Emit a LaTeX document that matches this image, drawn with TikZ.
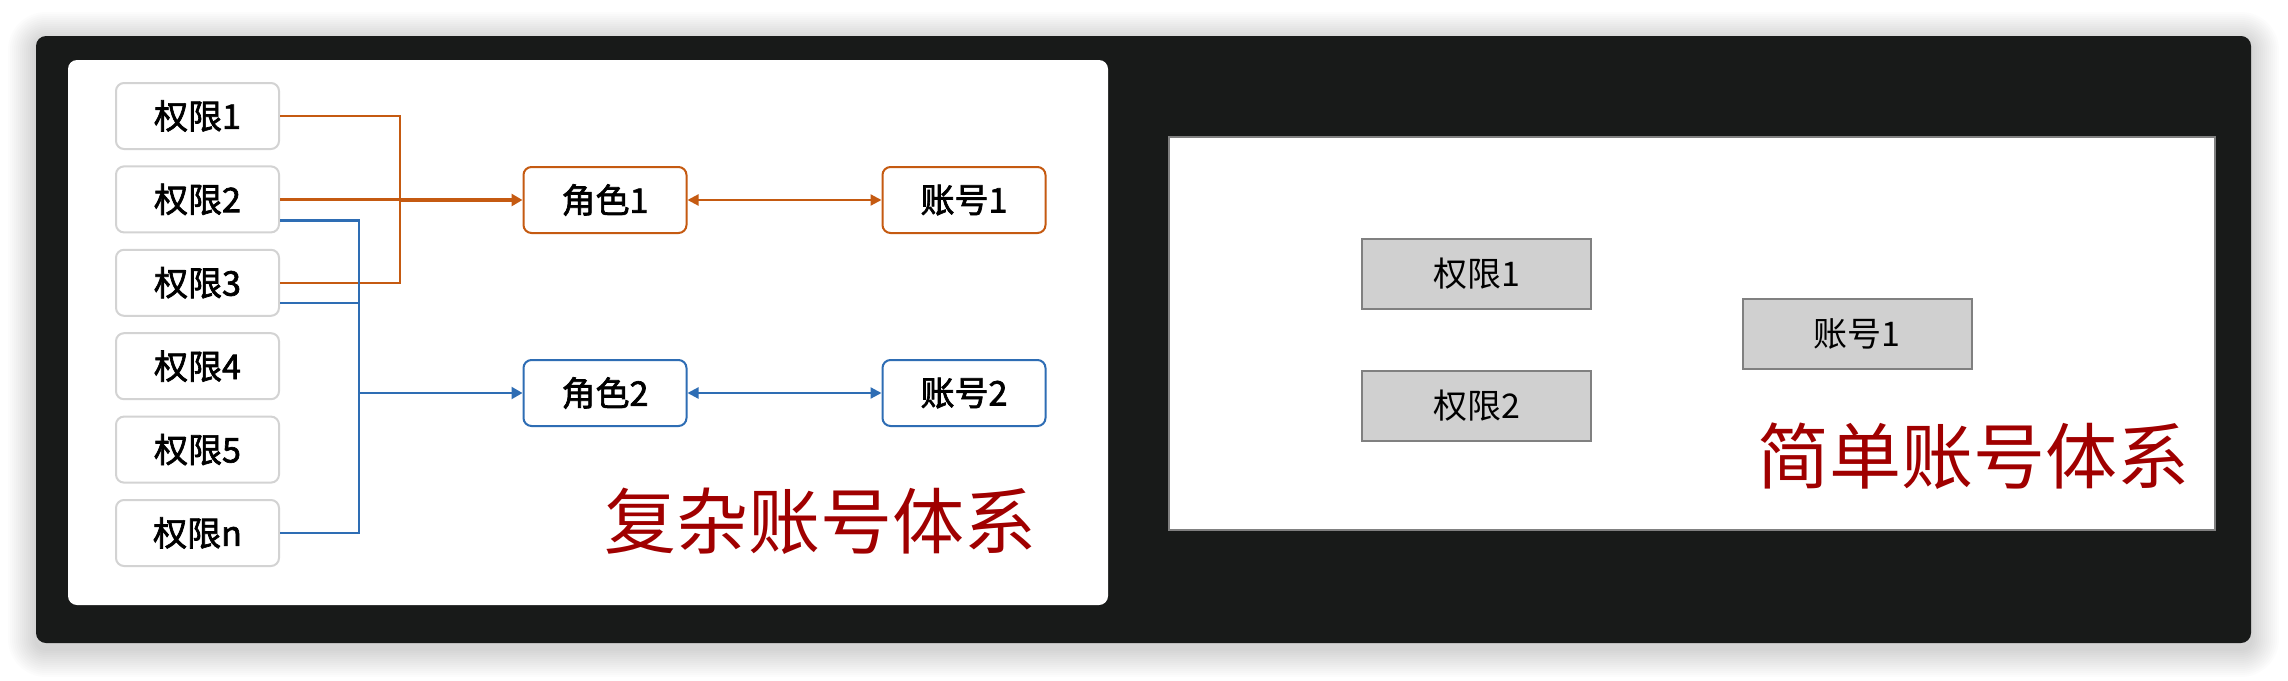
\documentclass[tikz,border=0pt]{standalone}
\usepackage{fontspec}
\newfontfamily\cjk{Noto Sans CJK SC}
\newfontfamily\cjkb[FakeBold=2]{Noto Sans CJK SC}
\usetikzlibrary{arrows.meta,calc}
\definecolor{darkbg}{HTML}{181A19}
\definecolor{orng}{HTML}{C55A11}
\definecolor{blu}{HTML}{2E6DB4}
\definecolor{ttlred}{HTML}{A00000}
\definecolor{lbord}{HTML}{D3D3D3}
\definecolor{gfill}{HTML}{D0D0D0}
\definecolor{gbord}{HTML}{808080}
\tikzset{
  permbox/.style={draw=lbord, line width=2pt, rounded corners=8pt, fill=white,
    minimum width=163pt, minimum height=66pt, inner sep=0pt,
    font=\cjkb\fontsize{34}{38}\selectfont},
  orbox/.style={permbox, draw=orng},
  blbox/.style={permbox, draw=blu},
  graybox/.style={draw=gbord, line width=2pt, fill=gfill,
    minimum width=229pt, minimum height=70pt, inner sep=0pt,
    font=\cjk\fontsize{34}{38}\selectfont},
  oline/.style={draw=orng, line width=2.2pt},
  bline/.style={draw=blu, line width=2.2pt},
  tip/.style={-{Triangle[width=12pt,length=11pt]}},
  dtip/.style={{Triangle[width=11pt,length=11pt]}-{Triangle[width=11pt,length=11pt]}},
  ttl/.style={text=ttlred, font=\cjk\fontsize{72}{80}\selectfont, inner sep=0pt},
}
\begin{document}
\begin{tikzpicture}[x=1pt,y=-1pt]
\useasboundingbox (0,0) rectangle (2288,680);
\fill[white] (0,0) rectangle (2288,680);
% soft shadow around dark panel
\foreach \i in {1,...,14} {
  \fill[black, opacity=0.012, rounded corners=10pt+2*\i pt]
    (36-2*\i,40-2*\i) rectangle (2251+2*\i,649+2*\i);
}
% dark panel
\fill[darkbg, rounded corners=10pt] (36,36) rectangle (2251,643);
% left white panel
\fill[white, rounded corners=9pt] (68,60) rectangle (1108,605);
% right white panel
\draw[fill=white, draw=gbord, line width=2pt] (1169,137) rectangle (2215,530);

% left permission boxes
\node[permbox] (p1) at (197.5,116) {权限1};
\node[permbox] (p2) at (197.5,199.4) {权限2};
\node[permbox] (p3) at (197.5,282.8) {权限3};
\node[permbox] (p4) at (197.5,366.2) {权限4};
\node[permbox] (p5) at (197.5,449.6) {权限5};
\node[permbox] (pn) at (197.5,533) {权限n};

% roles and accounts
\node[orbox] (r1) at (605,200) {角色1};
\node[orbox] (a1) at (964,200) {账号1};
\node[blbox] (r2) at (605,393) {角色2};
\node[blbox] (a2) at (964,393) {账号2};

% orange connectors
\coordinate (oj) at (400,0);
\draw[oline] (p1.east) -- (p1.east -| oj) -- (p3.east -| oj) -- (p3.east);
\draw[oline] (p2.east) -- (p2.east -| oj);
\draw[oline, line width=4pt, tip] (r1.west -| oj) -- (r1.west);
\draw[oline, dtip] (r1.east) -- (a1.west);

% blue connectors
\coordinate (bj) at (359,0);
\coordinate (b2) at ($(p2.east)+(0,21)$);
\coordinate (b3) at ($(p3.east)+(0,20)$);
\draw[bline] (b2) -- (b2 -| bj) -- (pn.east -| bj) -- (pn.east);
\draw[bline] (b3) -- (b3 -| bj);
\draw[bline, tip] (r2.west -| bj) -- (r2.west);
\draw[bline, dtip] (r2.east) -- (a2.west);

% title left
\node[ttl] (t1) at (820,521) {复杂账号体系};

% right panel boxes
\node[graybox] (q1) at (1476.5,274) {权限1};
\node[graybox] (q2) at (1476.5,406) {权限2};
\node[graybox] (qa) at (1857,334) {账号1};
\node[ttl] (t2) at (1973,456) {简单账号体系};
\end{tikzpicture}
\end{document}
